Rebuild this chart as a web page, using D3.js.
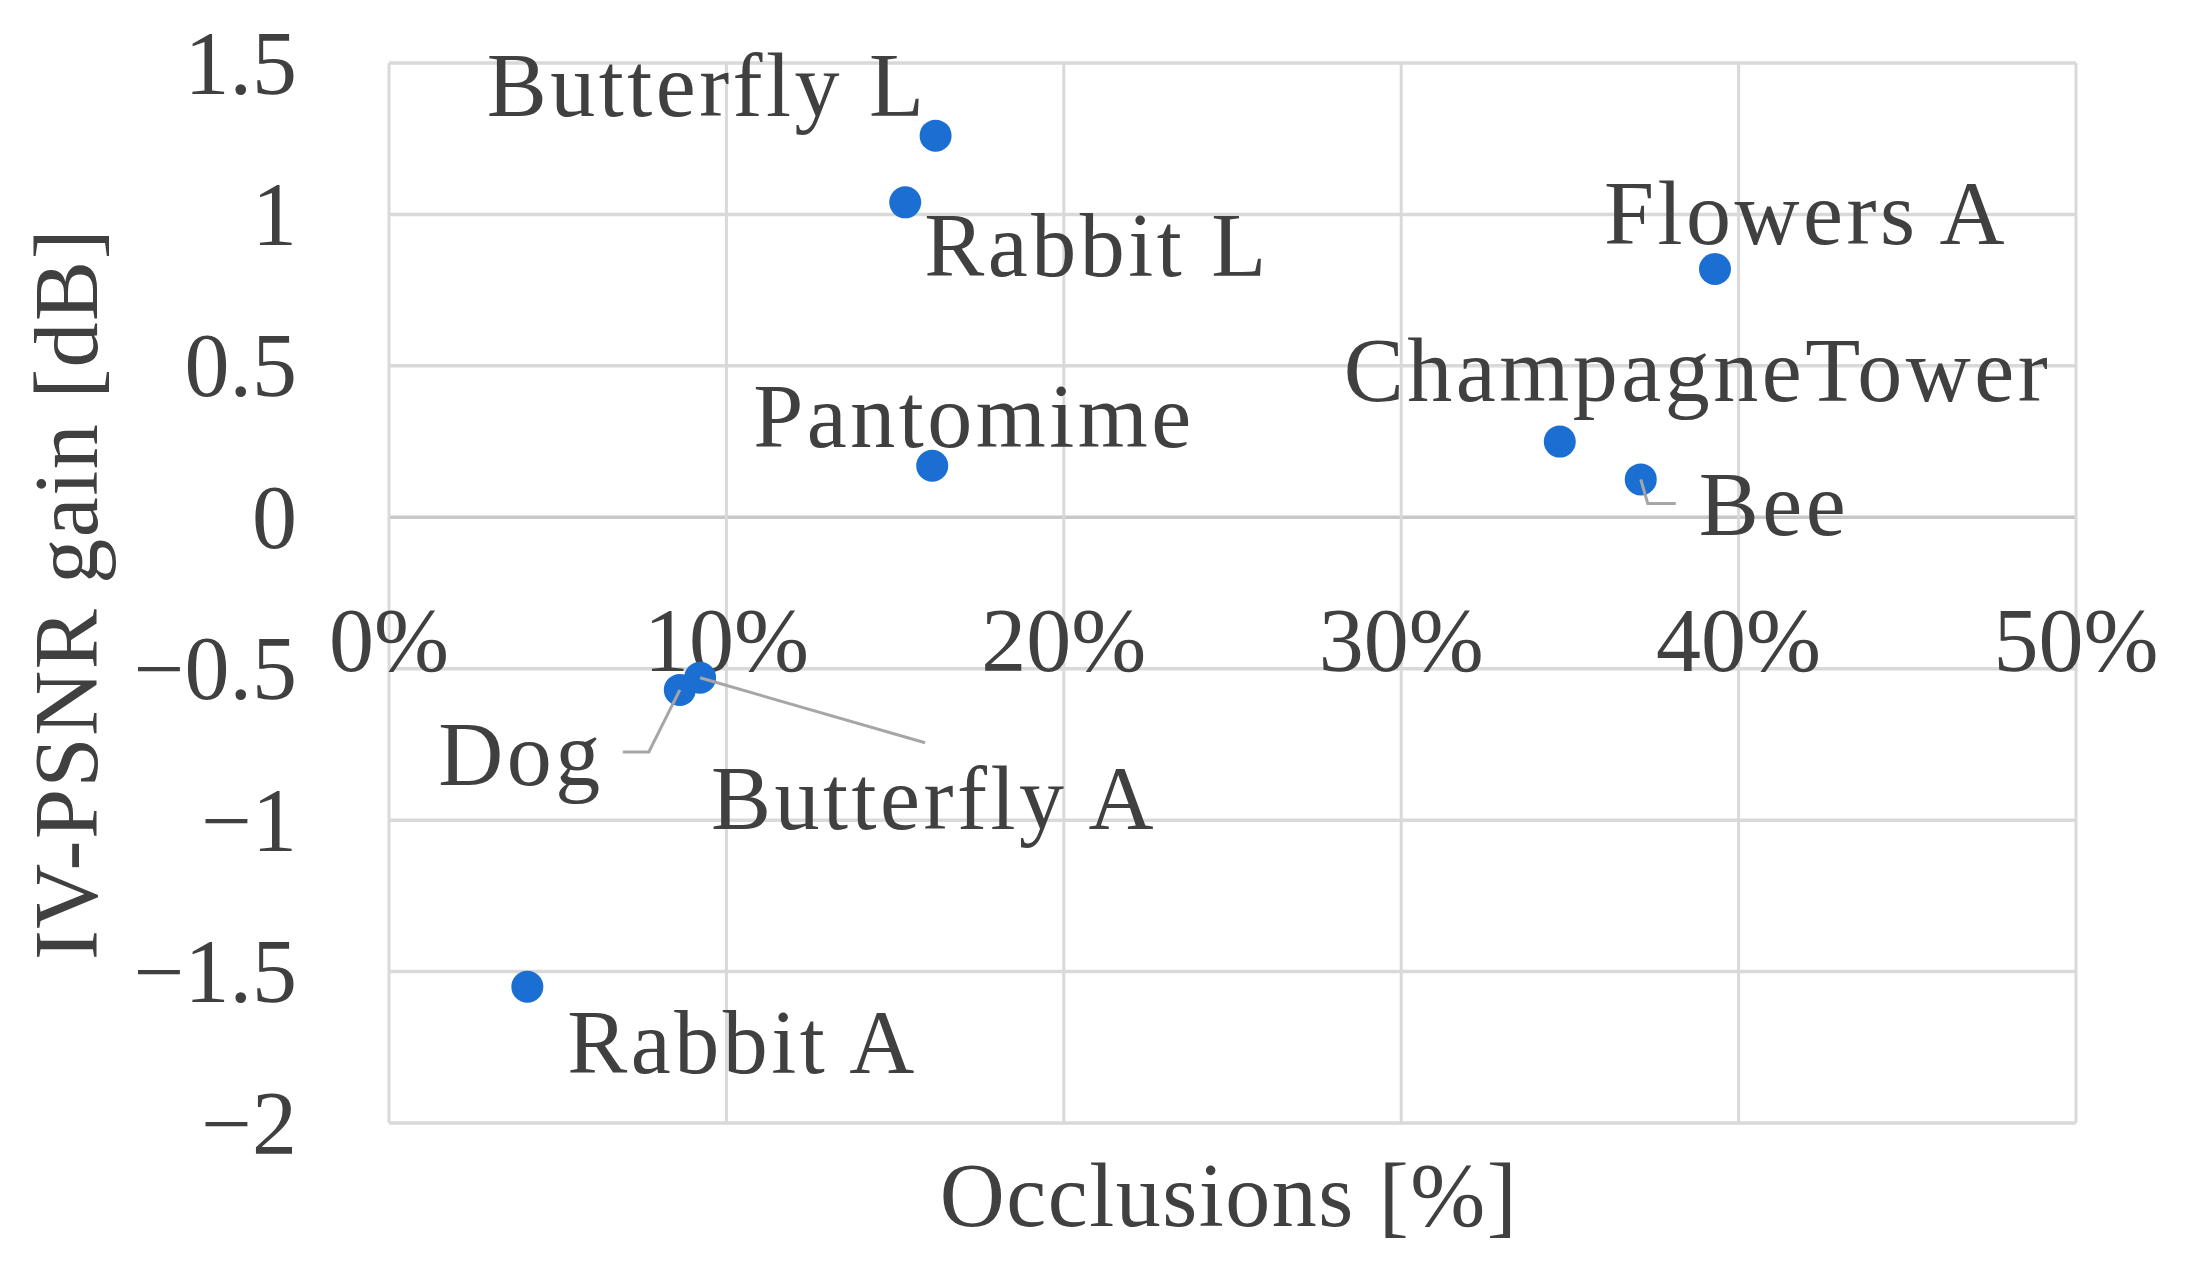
<!DOCTYPE html>
<html>
<head>
<meta charset="utf-8">
<script src="https://cdn.jsdelivr.net/npm/d3@7"></script>
<style>
  body { margin: 0; background: #fff; }
  text { font-family: "Liberation Serif", "DejaVu Serif", serif; fill: #404040; }
</style>
</head>
<body>
<div id="vis"></div>
<script>
/*************************** data ************************************/
var names = ["Butterfly L", "Rabbit L", "Pantomime", "Flowers A", "ChampagneTower",
             "Bee", "Dog", "Butterfly A", "Rabbit A"];
var occlusions = [0.162, 0.153, 0.161, 0.393, 0.347, 0.371, 0.0862, 0.0922, 0.041];
var gains = [1.26, 1.04, 0.17, 0.82, 0.25, 0.125, -0.57, -0.53, -1.55];

var x_ticks = [0, 0.1, 0.2, 0.3, 0.4, 0.5];
var y_ticks = [-2, -1.5, -1, -0.5, 0, 0.5, 1, 1.5];

// label placement relative to the point (px), and leader line bends
var label_pos = [
    {dx: -8, dy: -20, anchor: "end"},
    {dx: 19, dy: 74, anchor: "start"},
    {dx: -179, dy: -19, anchor: "start"},
    {dx: -111, dy: -25, anchor: "start"},
    {dx: -216, dy: -41, anchor: "start"},
    {dx: 58, dy: 56, anchor: "start"},
    {dx: -76, dy: 95, anchor: "end"},
    {dx: 11, dy: 151, anchor: "start"},
    {dx: 40, dy: 86, anchor: "start"}
];
var leaders = {
    5: [[35, 24], [7, 24]],
    6: [[-57, 62], [-31, 62]],
    7: [[225, 65]]
};

/*************************** chart ************************************/
var W = 2185, H = 1278;
var x0 = 389, x1 = 2076, y0 = 63, y1 = 1123;

var x = d3.scaleLinear().domain([0, 0.5]).range([x0, x1]);
var y = d3.scaleLinear().domain([-2, 1.5]).range([y1, y0]);

var svg = d3.select("div#vis").append("svg")
    .attr("width", W)
    .attr("height", H);

var grid = svg.append("g");

grid.selectAll("line.hgrid")
    .data(y_ticks)
  .enter().append("line")
    .attr("class", "hgrid")
    .attr("x1", x0).attr("x2", x1)
    .attr("y1", function(d) { return y(d); })
    .attr("y2", function(d) { return y(d); })
    .attr("stroke", function(d) { return d === 0 ? "#c8c8c8" : "#d9d9d9"; })
    .attr("stroke-width", 3.5);

grid.selectAll("line.vgrid")
    .data(x_ticks)
  .enter().append("line")
    .attr("class", "vgrid")
    .attr("y1", y0).attr("y2", y1)
    .attr("x1", function(d) { return x(d); })
    .attr("x2", function(d) { return x(d); })
    .attr("stroke", "#d9d9d9")
    .attr("stroke-width", 3);

// y tick labels
svg.append("g").selectAll("text")
    .data(y_ticks)
  .enter().append("text")
    .attr("x", 297)
    .attr("y", function(d) { return y(d); })
    .attr("dy", "0.34em")
    .attr("text-anchor", "end")
    .style("font-size", "90px")
    .text(function(d) { return d < 0 ? "\u2212" + Math.abs(d) : d; });

// x tick labels (axis crosses at 0, labels sit just below it)
svg.append("g").selectAll("text")
    .data(x_ticks)
  .enter().append("text")
    .attr("x", function(d) { return x(d); })
    .attr("y", 671)
    .attr("text-anchor", "middle")
    .style("font-size", "90px")
    .text(d3.format(".0%"));

// axis titles
svg.append("text")
    .attr("x", 1229)
    .attr("y", 1226)
    .attr("text-anchor", "middle")
    .style("font-size", "90px")
    .style("letter-spacing", "1.5px")
    .text("Occlusions [%]");

svg.append("text")
    .attr("transform", "translate(97,594) rotate(-90)")
    .attr("text-anchor", "middle")
    .style("font-size", "90px")
    .style("letter-spacing", "1.5px")
    .text("IV-PSNR gain [dB]");

var pts = names.map(function(n, i) {
    return {name: n, px: x(occlusions[i]), py: y(gains[i]), i: i};
});

// leader lines
svg.append("g").selectAll("polyline")
    .data(pts.filter(function(p) { return leaders[p.i]; }))
  .enter().append("polyline")
    .attr("points", function(p) {
        var l = leaders[p.i].map(function(o) { return [p.px + o[0], p.py + o[1]]; });
        l.push([p.px, p.py]);
        return l.map(function(c) { return c.join(","); }).join(" ");
    })
    .attr("fill", "none")
    .attr("stroke", "#a6a6a6")
    .attr("stroke-width", 3);

// points
svg.append("g").selectAll("circle")
    .data(pts)
  .enter().append("circle")
    .attr("cx", function(p) { return p.px; })
    .attr("cy", function(p) { return p.py; })
    .attr("r", 16)
    .attr("fill", "#1b6fd2");

// redraw leader tips on top of the dots (Excel draws them over markers)
svg.append("g").selectAll("polyline")
    .data(pts.filter(function(p) { return leaders[p.i]; }))
  .enter().append("polyline")
    .attr("points", function(p) {
        var o = leaders[p.i][leaders[p.i].length - 1];
        var t = 16 / Math.sqrt(o[0] * o[0] + o[1] * o[1]);
        return (p.px + o[0] * t) + "," + (p.py + o[1] * t) + " " + p.px + "," + p.py;
    })
    .attr("fill", "none")
    .attr("stroke", "#a6a6a6")
    .attr("stroke-width", 3);

// data labels
svg.append("g").selectAll("text")
    .data(pts)
  .enter().append("text")
    .attr("x", function(p) { return p.px + label_pos[p.i].dx; })
    .attr("y", function(p) { return p.py + label_pos[p.i].dy; })
    .attr("text-anchor", function(p) { return label_pos[p.i].anchor; })
    .style("font-size", "90px")
    .style("letter-spacing", "3.5px")
    .text(function(p) { return p.name; });
</script>
</body>
</html>
